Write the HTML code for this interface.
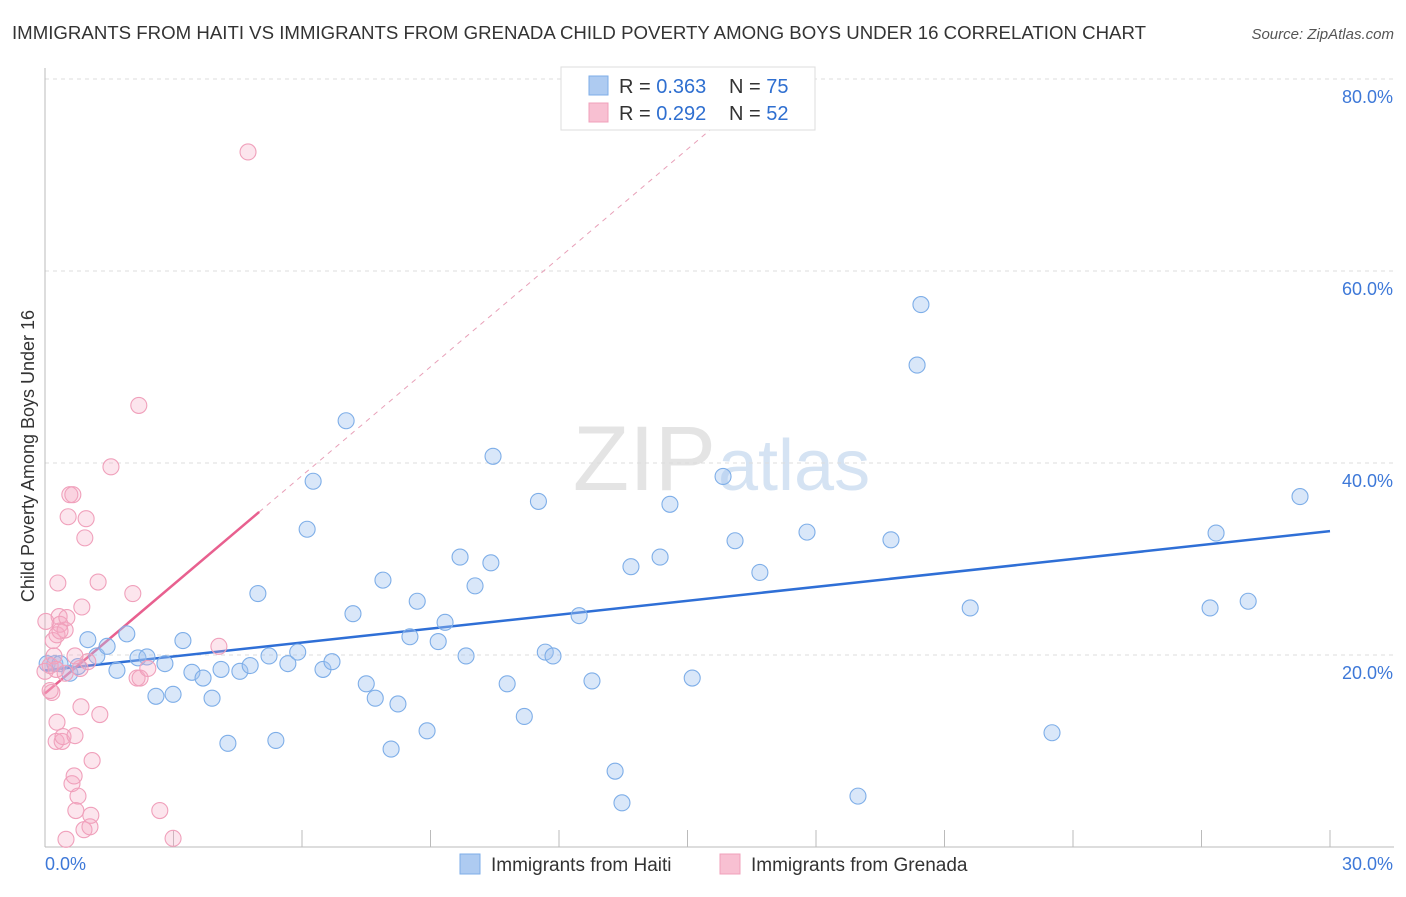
<!DOCTYPE html>
<html><head><meta charset="utf-8"><style>
body{margin:0;background:#fff;font-family:"Liberation Sans",sans-serif;}
svg text{font-family:"Liberation Sans",sans-serif;}
</style></head><body>
<svg id="chart" width="1406" height="892">
<text x="12" y="39" font-size="18" fill="#333" textLength="1134" lengthAdjust="spacingAndGlyphs">IMMIGRANTS FROM HAITI VS IMMIGRANTS FROM GRENADA CHILD POVERTY AMONG BOYS UNDER 16 CORRELATION CHART</text>
<text x="1394" y="39" font-size="15" fill="#555" text-anchor="end" font-style="italic">Source: ZipAtlas.com</text>
<text x="716" y="490" font-size="92" fill="#e4e4e4" text-anchor="end" font-family="Liberation Serif">ZIP</text>
<text x="718" y="490" font-size="72" fill="#d5e3f3">atlas</text>
<g id="grid"></g><g id="axes"></g><g id="lines"></g><g id="pts"></g>
<text x="34" y="456" font-size="18" fill="#333" text-anchor="middle" transform="rotate(-90 34 456)">Child Poverty Among Boys Under 16</text>
<g>
<rect x="561" y="67" width="254" height="63" fill="#fff" stroke="#ddd"/>
<rect x="589" y="76" width="19" height="19" fill="#aecbf1" stroke="#7eaee8"/>
<rect x="589" y="103" width="19" height="19" fill="#f8c0d2" stroke="#f0a0bb"/>
<text x="619" y="93" font-size="20" fill="#333">R = <tspan fill="#2f6fd0">0.363</tspan></text>
<text x="729" y="93" font-size="20" fill="#333">N = <tspan fill="#2f6fd0">75</tspan></text>
<text x="619" y="120" font-size="20" fill="#333">R = <tspan fill="#2f6fd0">0.292</tspan></text>
<text x="729" y="120" font-size="20" fill="#333">N = <tspan fill="#2f6fd0">52</tspan></text>
</g>
<g>
<rect x="460" y="854" width="20" height="20" fill="#aecbf1" stroke="#7eaee8"/>
<text x="491" y="871" font-size="19" fill="#333">Immigrants from Haiti</text>
<rect x="720" y="854" width="20" height="20" fill="#f8c0d2" stroke="#f0a0bb"/>
<text x="751" y="871" font-size="19" fill="#333">Immigrants from Grenada</text>
</g>
</svg>
<script>
const yTicks=[20,40,60,80];
const xTickLabels=["0.0%","30.0%"];
const haitiX=[0.05,0.23,0.35,0.58,0.77,1.0,1.21,1.45,1.68,1.91,2.17,2.38,2.59,2.8,2.99,3.22,3.43,3.69,3.9,4.11,4.27,4.55,4.79,4.97,5.23,5.39,5.67,5.9,6.12,6.26,6.49,6.7,7.03,7.19,7.5,7.71,7.89,8.08,8.24,8.52,8.69,8.92,9.18,9.34,9.69,9.83,10.04,10.41,10.46,10.79,11.19,11.52,11.68,11.86,12.47,12.77,13.31,13.47,13.68,14.36,14.59,15.11,15.83,16.11,16.69,17.79,18.98,19.75,20.36,20.45,21.6,23.51,27.2,27.34,28.09,29.3];
const haitiY=[19.1,19.1,19.1,18.1,18.8,21.6,19.9,20.9,18.4,22.2,19.7,19.8,15.7,19.1,15.9,21.5,18.2,17.6,15.5,18.5,10.8,18.3,18.9,26.4,19.9,11.1,19.1,20.3,33.1,38.1,18.5,19.3,44.4,24.3,17.0,15.5,27.8,10.2,14.9,21.9,25.6,12.1,21.4,23.4,30.2,19.9,27.2,29.6,40.7,17.0,13.6,36.0,20.3,19.9,24.1,17.3,7.9,4.6,29.2,30.2,35.7,17.6,38.6,31.9,28.6,32.8,5.3,32.0,50.2,56.5,24.9,11.9,24.9,32.7,25.6,36.5];
const grenadaX=[0.12,0.16,0.19,0.21,0.26,0.28,0.28,0.30,0.33,0.35,0.40,0.42,0.47,0.49,0.51,0.54,0.58,0.63,0.65,0.68,0.70,0.72,0.77,0.82,0.84,0.86,0.91,0.93,0.96,1.00,1.05,1.07,1.10,1.24,1.28,1.54,2.05,2.15,2.19,2.22,2.40,2.68,2.99,4.06,4.74,0.26,0.47,0.0,0.02,0.12,0.35,0.70];
const grenadaY=[18.9,16.1,21.5,19.9,11.0,13.0,22.1,27.5,24.0,23.2,11.0,11.5,22.6,0.8,23.9,34.4,36.7,6.6,36.7,7.4,11.6,3.8,5.3,18.6,14.6,25.0,1.8,32.2,34.2,19.3,2.1,3.3,9.0,27.6,13.8,39.6,26.4,17.6,46.0,17.6,18.6,3.8,0.9,20.9,72.4,18.5,18.1,18.3,23.5,16.3,22.5,19.9];
const haitiTrend=[18.4,32.9];
const grenadaTrend=[16.0,34.9];
const X=v=>45+v/30*1285, Y=v=>847-v*9.6;
const NS="http://www.w3.org/2000/svg";
function mk(tag,attrs,parent){const e=document.createElementNS(NS,tag);for(const k in attrs)e.setAttribute(k,attrs[k]);document.getElementById(parent).appendChild(e);return e;}
yTicks.forEach(t=>{
 const l=mk('line',{x1:45,x2:1394,y1:Y(t),y2:Y(t),stroke:'#ddd','stroke-dasharray':'4,4'},'grid');
 
 
 const tx=mk('text',{x:1393,y:Y(t)+24,'font-size':18,fill:'#3d78d8','text-anchor':'end'},'grid');tx.textContent=t.toFixed(1)+'%';
 
 
});
const ax=mk('line',{x1:45,x2:45,y1:68,y2:847,stroke:'#bbb'},'axes');


const bx=mk('line',{x1:45,x2:1394,y1:847,y2:847,stroke:'#bbb'},'axes');


for(let i=1;i<=10;i++){const t=mk('line',{x1:X(i*3),x2:X(i*3),y1:830,y2:847,stroke:'#bbb'},'axes');
 
 }
[[0,45,'start'],[30,1393,'end']].forEach((d,i)=>{const t=mk('text',{x:d[1],y:870,'font-size':18,fill:'#3d78d8','text-anchor':d[2]},'axes');t.textContent=xTickLabels[i];
 
 });
haitiX.forEach((x,i)=>{const c=mk('circle',{cx:X(x),cy:Y(haitiY[i]),r:8,fill:'rgba(160,196,240,0.4)',stroke:'#7eaee8','stroke-width':1.1},'pts');
 
 });
grenadaX.forEach((x,i)=>{const c=mk('circle',{cx:X(x),cy:Y(grenadaY[i]),r:8,fill:'rgba(244,170,195,0.3)',stroke:'#f0a0bb','stroke-width':1.1},'pts');
 
 });
const hl=mk('line',{x1:X(0),y1:Y(haitiTrend[0]),x2:X(30),y2:Y(haitiTrend[1]),stroke:'#2f6fd6','stroke-width':2.5},'lines');


const gs=(grenadaTrend[1]-grenadaTrend[0])/5;
const gd=mk('line',{x1:X(5),y1:Y(grenadaTrend[1]),x2:X(15.8),y2:Y(grenadaTrend[0]+gs*15.8),stroke:'#e8a0b8','stroke-width':1,'stroke-dasharray':'5,5'},'lines');


const gl=mk('line',{x1:X(0),y1:Y(grenadaTrend[0]),x2:X(5),y2:Y(grenadaTrend[1]),stroke:'#e8608f','stroke-width':2.5},'lines');


</script>
</body></html>
